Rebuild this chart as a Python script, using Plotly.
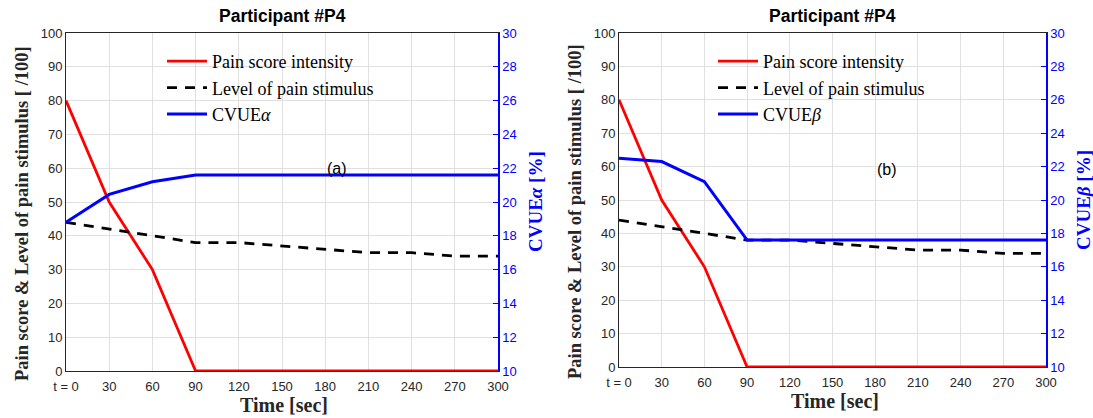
import plotly.graph_objects as go

# ---- data ----
time_s = [0, 30, 60, 90, 120, 150, 180, 210, 240, 270, 300]
time_labels = ["t = 0", "30", "60", "90", "120", "150", "180", "210", "240", "270", "300"]
pain_score = [80, 50, 30, 0, 0, 0, 0, 0, 0, 0, 0]
stimulus_level = [44, 42, 40, 38, 38, 37, 36, 35, 35, 34, 34]
cvue_alpha = [18.8, 20.45, 21.2, 21.6, 21.6, 21.6, 21.6, 21.6, 21.6, 21.6, 21.6]
cvue_beta = [22.5, 22.3, 21.1, 17.6, 17.6, 17.6, 17.6, 17.6, 17.6, 17.6, 17.6]
left_ticks = [0, 10, 20, 30, 40, 50, 60, 70, 80, 90, 100]
right_ticks = [10, 12, 14, 16, 18, 20, 22, 24, 26, 28, 30]

W, H = 1093, 418
def px(x):
    return x / W
def py(y):
    return 1 - y / H

SERIF = "Liberation Serif"
SANS = "Liberation Sans"
BLUE = "#0000ff"
GRID = "#e0e0e0"

fig = go.Figure()

panels = [
    dict(x="x", yl="y", yr="y2", leg="legend", name="CVUE<i>α</i>", cv=cvue_alpha),
    dict(x="x2", yl="y3", yr="y4", leg="legend2", name="CVUE<i>β</i>", cv=cvue_beta),
]
for p in panels:
    fig.add_trace(go.Scatter(x=time_s, y=pain_score, mode="lines", name="Pain score intensity",
                             line=dict(color="#ff0000", width=2.8), xaxis=p["x"], yaxis=p["yl"],
                             legend=p["leg"]))
    fig.add_trace(go.Scatter(x=time_s, y=stimulus_level, mode="lines", name="Level of pain stimulus",
                             line=dict(color="#000000", width=2.8, dash="10px,8px"), xaxis=p["x"],
                             yaxis=p["yl"], legend=p["leg"]))
    fig.add_trace(go.Scatter(x=time_s, y=p["cv"], mode="lines", name=p["name"],
                             line=dict(color=BLUE, width=3), xaxis=p["x"], yaxis=p["yr"],
                             legend=p["leg"]))

# panel geometry (pixels)
L = dict(x0=66, x1=498, y0=33, y1=371)
R = dict(x0=619, x1=1046, y0=33, y1=367)

tickfont = dict(family=SANS, size=13, color="#262626")
def xaxis_cfg(g, anchor):
    return dict(domain=[px(g["x0"]), px(g["x1"])], anchor=anchor, range=[0, 300], automargin=False,
                tickmode="array", tickvals=time_s, ticktext=time_labels, ticklabelstandoff=3,
                showgrid=True, gridcolor=GRID, gridwidth=1, showline=True, linecolor="#262626",
                linewidth=1, mirror=True, ticks="", tickfont=tickfont, zeroline=False)
def yl_cfg(g, anchor):
    return dict(domain=[py(g["y1"]), py(g["y0"])], anchor=anchor, range=[0, 100], automargin=False,
                tickmode="array", tickvals=left_ticks, showgrid=True, gridcolor=GRID,
                showline=True, linecolor="#262626", linewidth=1, ticks="", tickfont=tickfont,
                zeroline=False)
def yr_cfg(overlay, anchor):
    return dict(overlaying=overlay, anchor=anchor, side="right", range=[10, 30], automargin=False,
                tickmode="array", tickvals=right_ticks, showgrid=False, showline=True,
                linecolor=BLUE, linewidth=1.5, ticks="inside", ticklen=5, tickcolor=BLUE,
                tickfont=dict(family=SANS, size=13, color=BLUE), zeroline=False)

legfont = dict(family=SERIF, size=18, color="#000")
fig.update_layout(
    width=W, height=H, margin=dict(l=0, r=0, t=0, b=0, autoexpand=False),
    paper_bgcolor="white", plot_bgcolor="white",
    xaxis=xaxis_cfg(L, "y"), yaxis=yl_cfg(L, "x"), yaxis2=yr_cfg("y", "x"),
    xaxis2=xaxis_cfg(R, "y3"), yaxis3=yl_cfg(R, "x2"), yaxis4=yr_cfg("y3", "x2"),
    legend=dict(x=px(162), y=py(43), xanchor="left", yanchor="top", bgcolor="rgba(0,0,0,0)",
                font=legfont, tracegroupgap=0, itemwidth=40),
    legend2=dict(x=px(713), y=py(43), xanchor="left", yanchor="top", bgcolor="rgba(0,0,0,0)",
                 font=legfont, tracegroupgap=0, itemwidth=40),
    showlegend=True,
)

ann = []
for g, right_title in [(L, "CVUE<i>α</i> [%]"), (R, "CVUE<i>β</i> [%]")]:
    cx = (g["x0"] + g["x1"]) / 2
    common = dict(xref="paper", yref="paper", showarrow=False, xanchor="center", yanchor="middle")
    ann.append(dict(text="<b>Participant #P4</b>", x=px(cx), y=py(16),
                    font=dict(family=SANS, size=17.5, color="#000"), **common))
    ann.append(dict(text="<b>Time [sec]</b>", x=px(cx + 2), y=py(g["y1"] + 34),
                    font=dict(family=SERIF, size=20, color="#262626"), **common))
    ann.append(dict(text="<b>Pain score &amp; Level of pain stimulus [ /100]</b>", x=px(g["x0"] - 44),
                    y=py((g["y0"] + g["y1"]) / 2 + 12), textangle=-90,
                    font=dict(family=SERIF, size=18.5, color="#262626"), **common))
    ann.append(dict(text="<b>" + right_title + "</b>", x=px(g["x1"] + 37), y=py((g["y0"] + g["y1"]) / 2),
                    textangle=-90, font=dict(family=SERIF, size=19, color=BLUE), **common))
ann.append(dict(text="(a)", x=188, y=60, xref="x", yref="y", showarrow=False,
                font=dict(family=SANS, size=16, color="#000")))
ann.append(dict(text="(b)", x=188, y=59, xref="x2", yref="y3", showarrow=False,
                font=dict(family=SANS, size=16, color="#000")))
fig.update_layout(annotations=ann)

fig.write_html("out.html")
